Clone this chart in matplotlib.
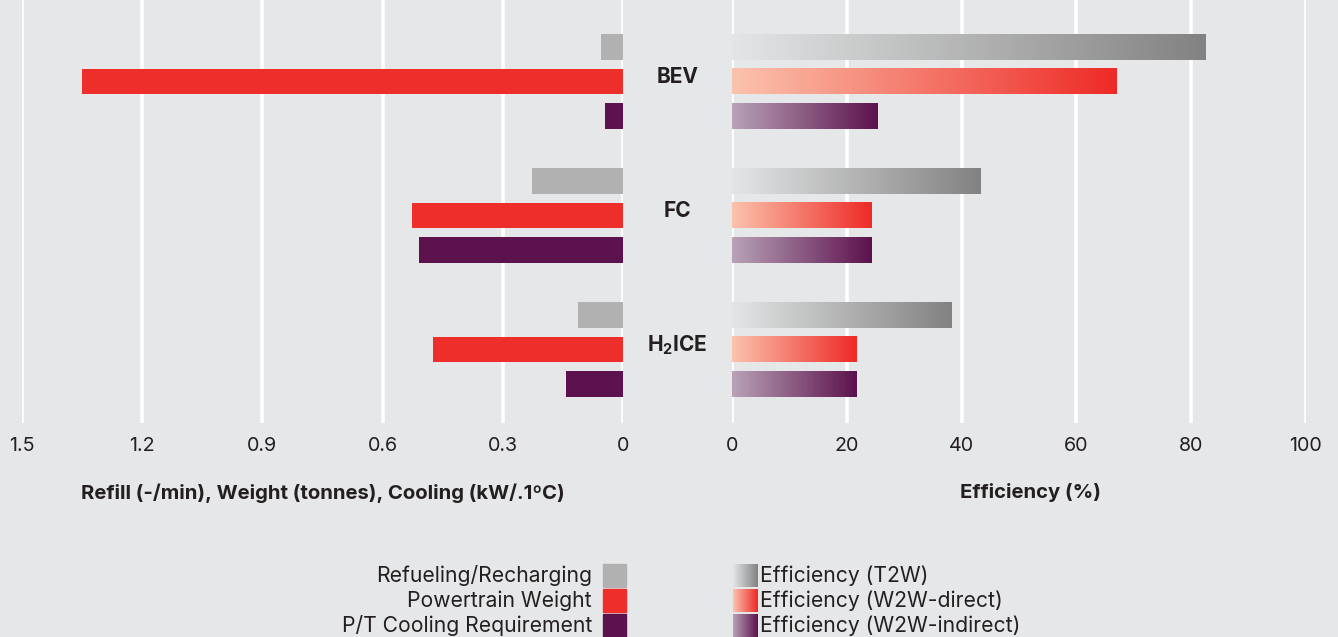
import numpy as np
import matplotlib
matplotlib.use("Agg")
import matplotlib.pyplot as plt
from matplotlib.colors import LinearSegmentedColormap
from matplotlib.patches import Rectangle
from matplotlib.transforms import blended_transform_factory

FONT = "Inter"
plt.rcParams['font.family'] = [FONT, 'DejaVu Sans']
plt.rcParams['mathtext.fontset'] = 'custom'
plt.rcParams['mathtext.rm'] = FONT
plt.rcParams['mathtext.bf'] = FONT + ':bold'

# ---------------- data ----------------
categories = ["BEV", "FC", "H$_\\mathbf{2}$ICE"]
refuel = [0.055, 0.227, 0.112]
weight = [1.35, 0.527, 0.474]
cooling = [0.045, 0.509, 0.142]
eff_t2w = [82.6, 43.4, 38.3]
eff_direct = [67.1, 24.4, 21.7]
eff_indirect = [25.4, 24.4, 21.7]
left_ticks = [1.5, 1.2, 0.9, 0.6, 0.3, 0]
left_ticklabels = ["1.5", "1.2", "0.9", "0.6", "0.3", "0"]
right_ticks = [0, 20, 40, 60, 80, 100]
left_labels = ["Refueling/Recharging", "Powertrain Weight", "P/T Cooling Requirement"]
right_labels = ["Efficiency (T2W)", "Efficiency (W2W-direct)", "Efficiency (W2W-indirect)"]

# ---------------- style ----------------
BG = "#e6e7e9"
TXT = "#231f20"
GRAY = "#b1b1b1"
RED = "#ee2e2a"
PURPLE = "#5c124d"
cmap_t2w = LinearSegmentedColormap.from_list("t2w", ["#e4e5e6", "#828282"])
cmap_dir = LinearSegmentedColormap.from_list("dir", ["#fbc3ad", "#ee2a26"])
cmap_ind = LinearSegmentedColormap.from_list("ind", ["#b9a2b6", "#5c124d"])
FS_TICK = 14.2
FS_TITLE = 14.6
FS_LEG = 15.2

W, H = 1338, 637
fig = plt.figure(figsize=(W / 100, H / 100), dpi=100, facecolor=BG)

def px_axes(x0, x1, y0, y1):
    return [x0 / W, 1 - y1 / H, (x1 - x0) / W, (y1 - y0) / H]

axL = fig.add_axes(px_axes(22, 623, 0, 423))
axR = fig.add_axes(px_axes(732.2, 1305.7, 0, 423))

group_gap = 3.88
bar_h = 0.75
centers = np.arange(len(categories)) * group_gap  # first row of each group
ylim = (centers[-1] + 2 + 1.13, -1.36)

for ax in (axL, axR):
    ax.set_facecolor(BG)
    for s in ax.spines.values():
        s.set_visible(False)
    ax.tick_params(axis='both', length=0, labelsize=FS_TICK, labelcolor=TXT, pad=10)
    ax.set_yticks([])
    ax.grid(axis='x', color='white', linewidth=2.6, zorder=0)
    ax.set_axisbelow(True)

# left panel
for i in range(len(categories)):
    c = centers[i]
    axL.barh(c, refuel[i], height=bar_h, color=GRAY, zorder=2)
    axL.barh(c + 1, weight[i], height=bar_h, color=RED, zorder=2)
    axL.barh(c + 2, cooling[i], height=bar_h, color=PURPLE, zorder=2)
axL.set_xlim(1.5, 0)
axL.set_xticks(left_ticks)
axL.set_xticklabels(left_ticklabels)
axL.set_ylim(*ylim)

# right panel (gradient bars)
grad = np.linspace(0, 1, 256).reshape(1, -1)
for i in range(len(categories)):
    c = centers[i]
    for j, (vals, cm) in enumerate([(eff_t2w, cmap_t2w), (eff_direct, cmap_dir), (eff_indirect, cmap_ind)]):
        y = c + j
        axR.imshow(grad, cmap=cm, aspect='auto', interpolation='bilinear',
                   extent=[0, vals[i], y + bar_h / 2, y - bar_h / 2], zorder=2)
axR.set_xlim(0, 100)
axR.set_xticks(right_ticks)
axR.set_ylim(*ylim)

# category labels between panels
tr = blended_transform_factory(fig.transFigure, axL.transData)
for i, cat in enumerate(categories):
    axL.text(677.5 / W, centers[i] + 1 - 0.13, cat, transform=tr, ha='center', va='center',
             fontsize=15, fontweight='bold', color=TXT)

# axis titles
fig.text(323 / W, 1 - 493 / H, "Refill (-/min), Weight (tonnes), Cooling (kW/.1ºC)",
         ha='center', va='center', fontsize=FS_TITLE, fontweight='bold', color=TXT)
fig.text(1030 / W, 1 - 493 / H, "Efficiency (%)",
         ha='center', va='center', fontsize=FS_TITLE, fontweight='bold', color=TXT)

# legend (overlay axes in pixel units)
ov = fig.add_axes([0, 0, 1, 1])
ov.set_xlim(0, W)
ov.set_ylim(H, 0)
ov.axis('off')
ov.patch.set_alpha(0)
rows_y = [575.5, 600.5, 625.5]
sq = 23
solid_cols = [GRAY, RED, PURPLE]
grad_cmaps = [cmap_t2w, cmap_dir, cmap_ind]
for k in range(3):
    y = rows_y[k]
    ov.add_patch(Rectangle((603, y - sq / 2), sq, sq, color=solid_cols[k]))
    ov.text(592, y, left_labels[k], ha='right', va='center', fontsize=FS_LEG, color=TXT)
    ov.imshow(grad, cmap=grad_cmaps[k], aspect='auto', interpolation='bilinear',
              extent=[733, 758, y + sq / 2, y - sq / 2])
    ov.text(760, y, right_labels[k], ha='left', va='center', fontsize=FS_LEG, color=TXT)
ov.set_xlim(0, W)
ov.set_ylim(H, 0)

fig.savefig("out.png", dpi=100, facecolor=BG)
